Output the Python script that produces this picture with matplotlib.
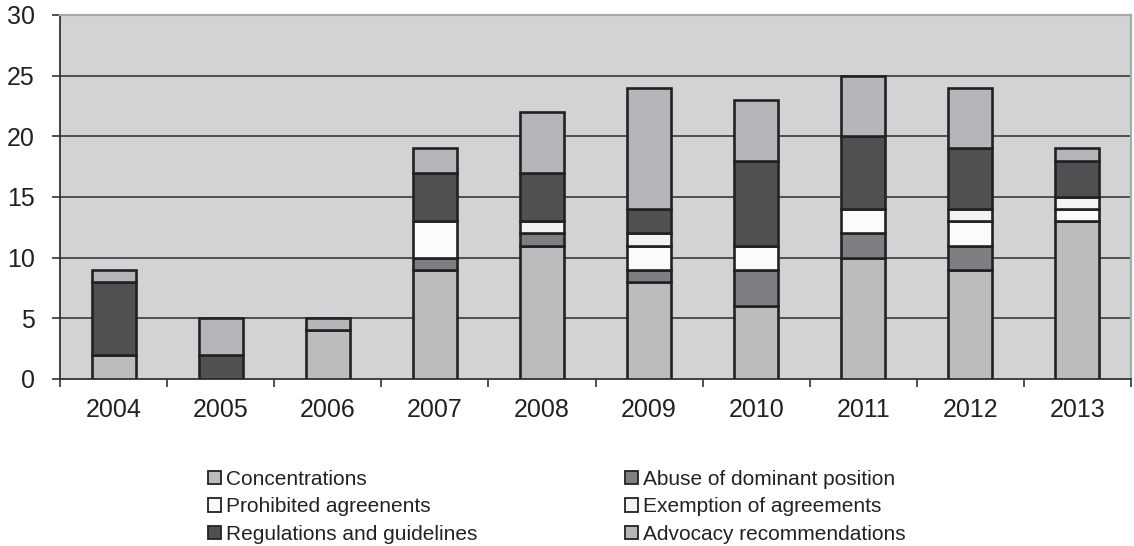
import matplotlib.pyplot as plt
import numpy as np

plt.rcParams['font.family'] = ['Liberation Sans', 'DejaVu Sans']

years = ['2004', '2005', '2006', '2007', '2008', '2009', '2010', '2011', '2012', '2013']

series_names = [
    'Concentrations',
    'Abuse of dominant position',
    'Prohibited agreenents',
    'Exemption of agreements',
    'Regulations and guidelines',
    'Advocacy recommendations',
]

concentrations = [2, 0, 4, 9, 11, 8, 6, 10, 9, 13]
abuse = [0, 0, 0, 1, 1, 1, 3, 2, 2, 0]
prohibited = [0, 0, 0, 3, 0, 2, 2, 2, 2, 1]
exemption = [0, 0, 0, 0, 1, 1, 0, 0, 1, 1]
regulations = [6, 2, 0, 4, 4, 2, 7, 6, 5, 3]
advocacy = [1, 3, 1, 2, 5, 10, 5, 5, 5, 1]

series_values = [concentrations, abuse, prohibited, exemption, regulations, advocacy]
series_colors = ['#bbbcbe', '#7e7f83', '#fbfbfb', '#f2f4f2', '#505052', '#b5b6b9']

fig = plt.figure(figsize=(11.34, 5.46), dpi=100)
ax = fig.add_axes([60 / 1134, 1 - 379 / 546, (1131 - 60) / 1134, (379 - 15) / 546])

x = np.arange(len(years))
bottom = np.zeros(len(years))
handles = []
for name, vals, col in zip(series_names, series_values, series_colors):
    vals = np.array(vals, dtype=float)
    mask = vals > 0
    ax.bar(x[mask], vals[mask], width=0.41, bottom=bottom[mask], color=col,
           edgecolor='#222222', linewidth=1.9, zorder=3)
    handles.append(plt.Rectangle((0, 0), 1, 1, facecolor=col,
                                 edgecolor='#222222', linewidth=1.3))
    bottom += vals

ax.set_facecolor('#d2d3d5')
ax.set_xlim(-0.5, len(years) - 0.5)
ax.set_ylim(0, 30)
ax.set_yticks(np.arange(0, 31, 5))
ax.set_xticks(x)
ax.set_xticklabels(years)
ax.set_xticks(np.arange(-0.5, len(years), 1), minor=True)

ax.tick_params(axis='x', which='major', length=0, pad=14, labelsize=18,
               labelcolor='#222222')
ax.tick_params(axis='x', which='minor', length=6, width=1.2, color='#333333')
ax.tick_params(axis='y', length=6, width=1.2, color='#333333', pad=12,
               labelsize=18, labelcolor='#222222')

ax.set_axisbelow(True)
ax.yaxis.grid(True, color='#3a3a3a', linewidth=1.2)
gl = ax.get_ygridlines()
gl[0].set_visible(False)
gl[-1].set_visible(False)

ax.spines['left'].set_color('#333333')
ax.spines['left'].set_linewidth(1.3)
ax.spines['bottom'].set_color('#333333')
ax.spines['bottom'].set_linewidth(1.3)
ax.spines['top'].set_color('#a8a8a8')
ax.spines['top'].set_linewidth(1.6)
ax.spines['right'].set_color('#a8a8a8')
ax.spines['right'].set_linewidth(1.6)

order = [0, 2, 4, 1, 3, 5]
fig.legend([handles[i] for i in order], [series_names[i] for i in order],
           ncol=2, loc='upper left', bbox_to_anchor=(208 / 1134, 1 - 470 / 546),
           frameon=False, fontsize=15, handlelength=0.6, handleheight=0.6,
           handletextpad=0.25, columnspacing=7.1, labelspacing=0.4,
           borderpad=0, borderaxespad=0, labelcolor='#222222')

fig.savefig('out.png', dpi=100)
